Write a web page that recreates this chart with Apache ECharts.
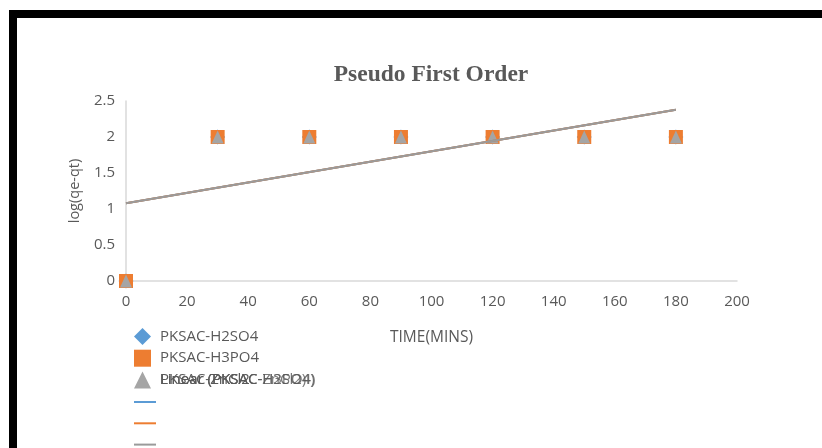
<!DOCTYPE html>
<html>
<head>
<meta charset="utf-8">
<script src="https://cdn.jsdelivr.net/npm/echarts@6/dist/echarts.min.js"></script>
<style>
  html, body { margin: 0; padding: 0; background: #ffffff; }
  #chart { width: 822px; height: 448px; }
</style>
</head>
<body>
<div id="chart"></div>
<script>
// Sampling times (minutes) and log(qe-qt) for each activated carbon
const times = [0, 30, 60, 90, 120, 150, 180];
const h2so4 = [0, 2, 2, 2, 2, 2, 2];
const h3po4 = [0, 2, 2, 2, 2, 2, 2];
const zncl2 = [0, 2, 2, 2, 2, 2, 2];

// Linear trendline end points (time, value)
const trendTimes = [0, 180];
const trendH2so4 = [1.08, 2.38];
const trendH3po4 = [1.08, 2.38];
const trendZncl2 = [1.08, 2.38];

const seriesNames = ['PKSAC-H2SO4', 'PKSAC-H3PO4', 'PKSAC-ZnCl2'];
const trendNames = ['Linear (PKSAC-H2SO4)', 'Linear (PKSAC-H3PO4)', 'Linear (PKSAC-ZnCl2)'];
const yTicks = [0, 0.5, 1, 1.5, 2, 2.5];

const textColor = '#595959';
const uiFont = 'Open Sans';

const pairs = (xs, ys) => xs.map((x, i) => [x, ys[i]]);

const chart = echarts.init(document.getElementById('chart'), null, { renderer: 'canvas' });

const option = {
  backgroundColor: '#ffffff',
  animation: false,
  title: {
    text: 'Pseudo First Order',
    left: 431, top: 63, textAlign: 'center', padding: 0,
    textStyle: { fontFamily: 'Liberation Serif', fontWeight: 'bold', fontSize: 23.5, color: textColor }
  },
  grid: { left: 126, right: 85, top: 101, bottom: 167, containLabel: false },
  xAxis: {
    type: 'value', min: 0, max: 200, interval: 20,
    name: 'TIME(MINS)', nameLocation: 'middle', nameGap: 49,
    nameTextStyle: { fontFamily: uiFont, fontSize: 15.5, color: textColor },
    axisLine: { show: true, lineStyle: { color: '#d9d9d9', width: 1.5 } },
    axisTick: { show: false },
    splitLine: { show: false },
    axisLabel: { fontFamily: uiFont, fontSize: 15, color: textColor, margin: 13 }
  },
  yAxis: {
    type: 'value', min: 0, max: 2.5, interval: 0.5,
    name: 'log(qe-qt)', nameLocation: 'middle', nameGap: 44,
    nameTextStyle: { fontFamily: uiFont, fontSize: 14.5, color: textColor },
    axisLine: { show: true, lineStyle: { color: '#d9d9d9', width: 1.5 } },
    axisTick: { show: false },
    splitLine: { show: false },
    axisLabel: {
      fontFamily: uiFont, fontSize: 15, color: textColor, margin: 11,
      formatter: v => (yTicks.indexOf(v) >= 0 ? String(v) : '')
    }
  },
  legend: [
    {
      // marker entries
      orient: 'vertical', left: 134, top: 328, padding: 0, height: 80,
      itemWidth: 17, itemHeight: 17, itemGap: 4.7,
      textStyle: { fontFamily: uiFont, fontSize: 15, color: textColor, padding: [0, 0, 0, 4] },
      data: seriesNames
    },
    {
      // trendline entries; their captions sit together on the third row
      orient: 'vertical', left: 133, top: 400, padding: 0, height: 48,
      itemWidth: 22, itemHeight: 4, itemGap: 17.7,
      textStyle: { fontFamily: uiFont, fontSize: 15, color: textColor },
      data: trendNames.map(n => ({ name: n, itemStyle: { opacity: 0 } })),
      formatter: () => ''
    }
  ],
  series: [
    {
      name: seriesNames[0], type: 'scatter', data: pairs(times, h2so4),
      symbol: 'diamond', symbolSize: 15, z: 3,
      itemStyle: { color: '#5b9bd5', opacity: 1 }
    },
    {
      name: seriesNames[1], type: 'scatter', data: pairs(times, h3po4),
      symbol: 'rect', symbolSize: [14, 14], z: 4,
      itemStyle: { color: '#ed7d31', opacity: 1 }
    },
    {
      name: seriesNames[2], type: 'scatter', data: pairs(times, zncl2),
      symbol: 'triangle', symbolSize: [12, 13], z: 5,
      itemStyle: { color: '#a5a5a5', opacity: 1 }
    },
    {
      name: trendNames[0], type: 'line', data: pairs(trendTimes, trendH2so4),
      symbol: 'none', z: 6, lineStyle: { color: '#5b9bd5', width: 2 }, color: '#5b9bd5'
    },
    {
      name: trendNames[1], type: 'line', data: pairs(trendTimes, trendH3po4),
      symbol: 'none', z: 7, lineStyle: { color: '#ed7d31', width: 2 }, color: '#ed7d31'
    },
    {
      name: trendNames[2], type: 'line', data: pairs(trendTimes, trendZncl2),
      symbol: 'none', z: 8, lineStyle: { color: '#9a9a9a', width: 2 }, color: '#a5a5a5'
    }
  ],
  graphic: [
    // frame edges
    { type: 'rect', shape: { x: 9, y: 10, width: 813, height: 8 }, style: { fill: '#000000' }, z: 100 },
    { type: 'rect', shape: { x: 9, y: 10, width: 8, height: 438 }, style: { fill: '#000000' }, z: 100 },
    // trendline captions stacked on the third legend row
    ...trendNames.map(t => ({
      type: 'text', x: 160, y: 380, z: 100,
      style: { text: t, fontFamily: uiFont, fontSize: 15, fill: textColor, opacity: 0.8, verticalAlign: 'middle' }
    }))
  ]
};

chart.setOption(option);
</script>
</body>
</html>
